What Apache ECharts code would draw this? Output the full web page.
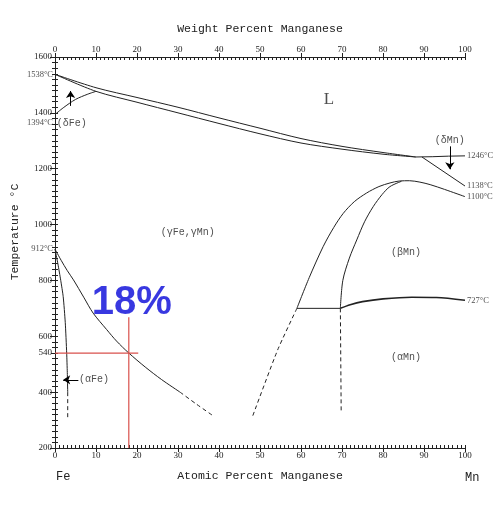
<!DOCTYPE html>
<html><head><meta charset="utf-8">
<script src="https://cdn.jsdelivr.net/npm/echarts@6/dist/echarts.min.js"></script>
<style>html,body{margin:0;padding:0;background:#fff}#c{width:496px;height:512px}</style>
</head><body><div id="c"></div>
<script>
// ---- data (atomic % Mn, temperature °C) ----
const yTickValues = [200, 400, 540, 600, 800, 1000, 1200, 1400, 1600];
const liquidus = [[0,1538],[10,1490],[20,1455],[30,1420],[40,1382],[50,1345],[60,1308],[70,1280],[80,1258],[88,1242]];
const solidus  = [[0,1538],[10,1477],[20,1438],[30,1400],[40,1362],[50,1325],[60,1292],[70,1270],[80,1252],[88,1242]];
const deltaFe  = [[0,1394],[2,1418],[5,1448],[8,1467],[10,1477]];
const deltaMnTop = [[88,1242],[92,1243],[96,1245],[100,1246]];
const deltaMnBound = [[89.5,1242],[100,1138]];
const betaOuter = [[59,700],[62,810],[65.4,921],[68,990],[70.3,1040],[73,1082],[76,1113],[79,1136],[81.7,1149],[84,1156],[86.5,1157],[89,1152],[91.5,1143],[95,1126],[100,1100]];
const betaInner = [[69.6,700],[70.2,800],[71.8,880],[73.6,945],[75.5,1010],[77.6,1064],[79.8,1108],[81.7,1136],[84.5,1155]];
const eutectoid = [[59,700],[69.6,700]];
const alphaBeta = [[69.6,700],[72,713],[75,724],[80,734],[87,740],[93,739],[100,729]];
const gammaSolid = [[0,912],[1.5,872],[3,835],[4.5,802],[7,740],[9.3,683],[12.6,624],[15,583],[18,540],[22,490],[26,445],[30.5,400]];
const gammaDashed = [[30.5,400],[34.5,357],[38.6,315]];
const alphaFeSolid = [[0,912],[0.7,860],[1.4,800],[2,742],[2.5,650],[2.85,540],[3.0,470],[3.1,400]];
const alphaFeDashed = [[3.1,400],[3.1,300]];
const alphaMnLeft = [[59,700],[54.3,551],[48,306]];
const alphaMnRight = [[69.6,700],[69.8,330]];
const redH = [[0,540],[20.3,540]];
const redV = [[18,200],[18,668]];
const arrows = [[[3.8,1425],[3.8,1478]], [[96.3,1280],[96.3,1198]], [[5.7,444],[2,444]]];
const phaseLabels = [['L',66.8,1446,17],['(γFe,γMn)',32.4,973,10],['(βMn)',85.6,902,10],['(αMn)',85.6,526,10],['(δMn)',96.3,1303,10],['(δFe)',4.1,1364,10]];
const leftTempLabels = [['1538°C',0,1538,0],['1394°C',0,1394,8],['912°C',0,912,0]];
const rightTempLabels = [['1246°C',100,1246],['1138°C',100,1138],['1100°C',100,1100],['727°C',100,727]];
const bigNote = ['18%',18.7,719];

const MONO = 'Liberation Mono';
const SERIF = 'Liberation Serif';
const INK = '#222';

function lineS(data, o) {
  o = o || {};
  return {type:'line', data, xAxisIndex:0, yAxisIndex:0, symbol:'none', showSymbol:false,
    smooth: o.smooth === undefined ? 0.3 : o.smooth, silent:true, animation:false, z:o.z||3,
    lineStyle:{color:o.color||INK, width:o.width||1, type:o.type||'solid'}};
}
const dash = [4,3];

const textItems = [];
phaseLabels.forEach(p => textItems.push({value:[p[1],p[2]], label:{show:true, position:'inside', formatter:p[0], fontFamily: p[0]==='L'?SERIF:MONO, fontSize:p[3], color:INK, textBorderWidth:0}}));
textItems.push({value:[5.85,444], label:{show:true, position:'right', distance:0, formatter:'(αFe)', fontFamily:MONO, fontSize:10, color:INK}});
leftTempLabels.forEach(p => textItems.push({value:[p[1],p[2]], label:{show:true, position:'left', distance:2, offset:[0,p[3]], formatter:p[0], fontFamily:SERIF, fontSize:8.5, color:INK}}));
rightTempLabels.forEach(p => textItems.push({value:[p[1],p[2]], label:{show:true, position:'right', distance:2, formatter:p[0], fontFamily:SERIF, fontSize:8.5, color:INK}}));
textItems.push({value:[bigNote[1],bigNote[2]], label:{show:true, position:'inside', formatter:bigNote[0], fontFamily:'Liberation Sans', fontWeight:'bold', fontSize:40, color:'#0606d8', textBorderWidth:0, textShadowBlur:0}});

const baseX = {type:'value', min:0, max:100, splitLine:{show:false}};
const baseY = {type:'value', min:200, max:1600, splitLine:{show:false}};
const tickLbl = {fontFamily:SERIF, fontSize:9, color:INK, margin:3, formatter: v => String(v)};

const option = {
  backgroundColor:'#fff',
  animation:false,
  grid:{left:55, right:31, top:57, bottom:64, containLabel:false},
  xAxis:[
    Object.assign({}, baseX, {position:'bottom', interval:10,
      axisLine:{show:true, lineStyle:{color:INK, width:1}},
      axisTick:{show:true, inside:false, length:4, lineStyle:{color:INK}},
      axisLabel:Object.assign({}, tickLbl),
      name:'Atomic Percent Manganese', nameLocation:'middle', nameGap:22,
      nameTextStyle:{fontFamily:MONO, fontSize:11.5, color:INK}}),
    Object.assign({}, baseX, {position:'bottom', interval:1,
      axisLine:{show:false}, axisTick:{show:true, inside:true, length:3, lineStyle:{color:INK}}, axisLabel:{show:false}}),
    Object.assign({}, baseX, {position:'top', interval:10,
      axisLine:{show:true, lineStyle:{color:INK, width:1}},
      axisTick:{show:true, inside:false, length:4, lineStyle:{color:INK}},
      axisLabel:Object.assign({}, tickLbl),
      name:'Weight Percent Manganese', nameLocation:'middle', nameGap:22,
      nameTextStyle:{fontFamily:MONO, fontSize:11.5, color:INK}}),
    Object.assign({}, baseX, {position:'top', interval:1,
      axisLine:{show:false}, axisTick:{show:true, inside:true, length:3, lineStyle:{color:INK}}, axisLabel:{show:false}})
  ],
  yAxis:[
    Object.assign({}, baseY, {position:'left', interval:200,
      axisLine:{show:true, lineStyle:{color:INK, width:1}},
      axisTick:{show:true, inside:false, length:4, customValues:yTickValues, lineStyle:{color:INK}},
      axisLabel:Object.assign({}, tickLbl, {customValues:yTickValues})}),
    Object.assign({}, baseY, {position:'left', interval:20,
      axisLine:{show:false}, axisTick:{show:true, inside:true, length:3, lineStyle:{color:INK}}, axisLabel:{show:false}}),
    Object.assign({}, baseY, {position:'right', interval:20,
      axisLine:{show:true, lineStyle:{color:INK, width:1}},
      axisTick:{show:true, inside:true, length:3, lineStyle:{color:INK}}, axisLabel:{show:false}}),
    Object.assign({}, baseY, {position:'right', interval:200,
      axisLine:{show:false}, axisTick:{show:true, inside:true, length:5, lineStyle:{color:INK}}, axisLabel:{show:false}})
  ],
  graphic:[
    {type:'text', x:15, y:232, rotation:Math.PI/2, silent:true,
      style:{text:'Temperature °C', font:'11.5px "Liberation Mono"', fill:INK, textAlign:'center', textVerticalAlign:'middle', align:'center', verticalAlign:'middle'}},
    {type:'text', x:56, y:477, silent:true,
      style:{text:'Fe', font:'12px "Liberation Mono"', fill:INK, textAlign:'left', textVerticalAlign:'middle', align:'left', verticalAlign:'middle'}},
    {type:'text', x:465, y:478, silent:true,
      style:{text:'Mn', font:'12px "Liberation Mono"', fill:INK, textAlign:'left', textVerticalAlign:'middle', align:'left', verticalAlign:'middle'}}
  ],
  series:[
    lineS(liquidus), lineS(solidus), lineS(deltaFe),
    lineS(deltaMnTop, {smooth:false}), lineS(deltaMnBound, {smooth:false}),
    lineS(betaOuter), lineS(betaInner), lineS(eutectoid, {smooth:false}),
    lineS(alphaBeta, {width:1.6}),
    lineS(gammaSolid), lineS(gammaDashed, {type:dash}),
    lineS(alphaFeSolid, {smooth:0.2}), lineS(alphaFeDashed, {type:dash, smooth:false}),
    lineS(alphaMnLeft, {type:dash, smooth:0.2}), lineS(alphaMnRight, {type:dash, smooth:false}),
    lineS(redH, {color:'#d9504c', width:1.2, smooth:false, z:4}),
    lineS(redV, {color:'#d9504c', width:1.2, smooth:false, z:4}),
    {type:'scatter', xAxisIndex:0, yAxisIndex:0, symbolSize:0, silent:true, animation:false, z:6,
      data:textItems,
      markLine:{silent:true, animation:false, symbol:['none','arrow'], symbolSize:7,
        label:{show:false}, lineStyle:{color:'#000', width:1, type:'solid'},
        data: arrows.map(a => [{coord:a[0]}, {coord:a[1]}])}}
  ]
};
const chart = echarts.init(document.getElementById('c'), null, {renderer:'canvas'});
chart.setOption(option);
</script>
</body></html>
